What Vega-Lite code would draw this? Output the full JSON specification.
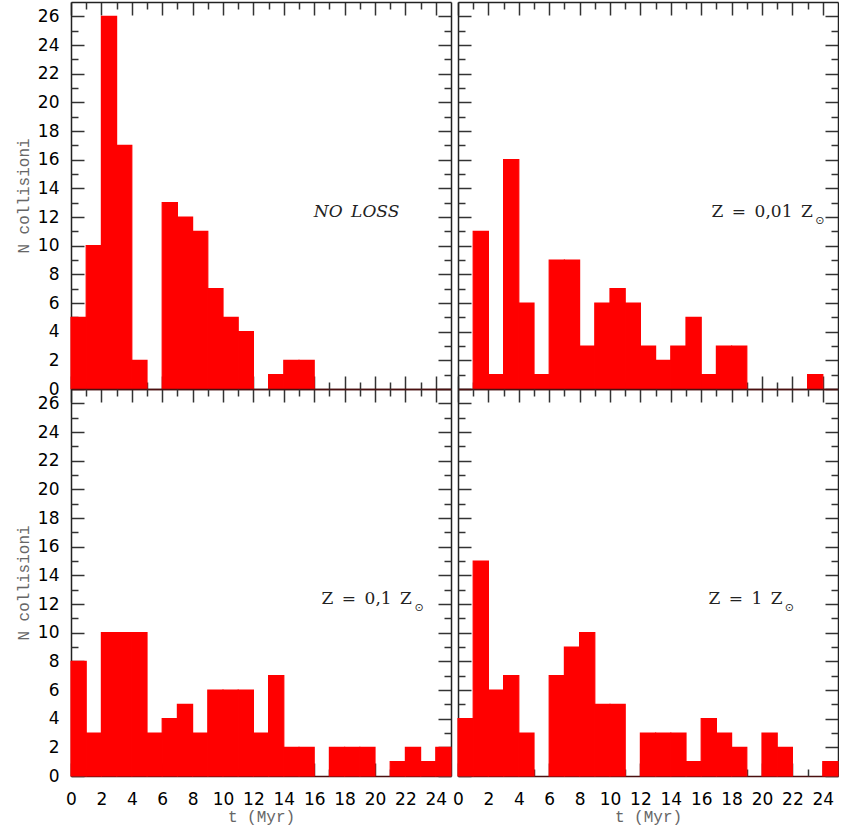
{
  "$schema": "https://vega.github.io/schema/vega-lite/v6.json",
  "padding": {"left": 15, "top": 1, "right": 0, "bottom": 2},
  "background": "white",
  "config": {"view": {"stroke": null}, "axis": {"grid": false}},
  "datasets": {
    "hist": [
      {"p": "a", "t0": 0, "t1": 1, "n": 5}, {"p": "a", "t0": 1, "t1": 2, "n": 10}, {"p": "a", "t0": 2, "t1": 3, "n": 26}, {"p": "a", "t0": 3, "t1": 4, "n": 17}, {"p": "a", "t0": 4, "t1": 5, "n": 2},
      {"p": "a", "t0": 6, "t1": 7, "n": 13}, {"p": "a", "t0": 7, "t1": 8, "n": 12}, {"p": "a", "t0": 8, "t1": 9, "n": 11}, {"p": "a", "t0": 9, "t1": 10, "n": 7}, {"p": "a", "t0": 10, "t1": 11, "n": 5},
      {"p": "a", "t0": 11, "t1": 12, "n": 4}, {"p": "a", "t0": 13, "t1": 14, "n": 1}, {"p": "a", "t0": 14, "t1": 15, "n": 2}, {"p": "a", "t0": 15, "t1": 16, "n": 2},
      {"p": "b", "t0": 1, "t1": 2, "n": 11}, {"p": "b", "t0": 2, "t1": 3, "n": 1}, {"p": "b", "t0": 3, "t1": 4, "n": 16}, {"p": "b", "t0": 4, "t1": 5, "n": 6}, {"p": "b", "t0": 5, "t1": 6, "n": 1},
      {"p": "b", "t0": 6, "t1": 7, "n": 9}, {"p": "b", "t0": 7, "t1": 8, "n": 9}, {"p": "b", "t0": 8, "t1": 9, "n": 3}, {"p": "b", "t0": 9, "t1": 10, "n": 6}, {"p": "b", "t0": 10, "t1": 11, "n": 7},
      {"p": "b", "t0": 11, "t1": 12, "n": 6}, {"p": "b", "t0": 12, "t1": 13, "n": 3}, {"p": "b", "t0": 13, "t1": 14, "n": 2}, {"p": "b", "t0": 14, "t1": 15, "n": 3}, {"p": "b", "t0": 15, "t1": 16, "n": 5},
      {"p": "b", "t0": 16, "t1": 17, "n": 1}, {"p": "b", "t0": 17, "t1": 18, "n": 3}, {"p": "b", "t0": 18, "t1": 19, "n": 3}, {"p": "b", "t0": 23, "t1": 24, "n": 1},
      {"p": "c", "t0": 0, "t1": 1, "n": 8}, {"p": "c", "t0": 1, "t1": 2, "n": 3}, {"p": "c", "t0": 2, "t1": 3, "n": 10}, {"p": "c", "t0": 3, "t1": 4, "n": 10}, {"p": "c", "t0": 4, "t1": 5, "n": 10},
      {"p": "c", "t0": 5, "t1": 6, "n": 3}, {"p": "c", "t0": 6, "t1": 7, "n": 4}, {"p": "c", "t0": 7, "t1": 8, "n": 5}, {"p": "c", "t0": 8, "t1": 9, "n": 3}, {"p": "c", "t0": 9, "t1": 10, "n": 6},
      {"p": "c", "t0": 10, "t1": 11, "n": 6}, {"p": "c", "t0": 11, "t1": 12, "n": 6}, {"p": "c", "t0": 12, "t1": 13, "n": 3}, {"p": "c", "t0": 13, "t1": 14, "n": 7}, {"p": "c", "t0": 14, "t1": 15, "n": 2},
      {"p": "c", "t0": 15, "t1": 16, "n": 2}, {"p": "c", "t0": 17, "t1": 18, "n": 2}, {"p": "c", "t0": 18, "t1": 19, "n": 2}, {"p": "c", "t0": 19, "t1": 20, "n": 2}, {"p": "c", "t0": 21, "t1": 22, "n": 1},
      {"p": "c", "t0": 22, "t1": 23, "n": 2}, {"p": "c", "t0": 23, "t1": 24, "n": 1}, {"p": "c", "t0": 24, "t1": 25, "n": 2},
      {"p": "d", "t0": 0, "t1": 1, "n": 4}, {"p": "d", "t0": 1, "t1": 2, "n": 15}, {"p": "d", "t0": 2, "t1": 3, "n": 6}, {"p": "d", "t0": 3, "t1": 4, "n": 7}, {"p": "d", "t0": 4, "t1": 5, "n": 3},
      {"p": "d", "t0": 6, "t1": 7, "n": 7}, {"p": "d", "t0": 7, "t1": 8, "n": 9}, {"p": "d", "t0": 8, "t1": 9, "n": 10}, {"p": "d", "t0": 9, "t1": 10, "n": 5}, {"p": "d", "t0": 10, "t1": 11, "n": 5},
      {"p": "d", "t0": 12, "t1": 13, "n": 3}, {"p": "d", "t0": 13, "t1": 14, "n": 3}, {"p": "d", "t0": 14, "t1": 15, "n": 3}, {"p": "d", "t0": 15, "t1": 16, "n": 1}, {"p": "d", "t0": 16, "t1": 17, "n": 4},
      {"p": "d", "t0": 17, "t1": 18, "n": 3}, {"p": "d", "t0": 18, "t1": 19, "n": 2}, {"p": "d", "t0": 20, "t1": 21, "n": 3}, {"p": "d", "t0": 21, "t1": 22, "n": 2}, {"p": "d", "t0": 24, "t1": 25, "n": 1}
    ],
    "labels": [
      {"p": "a", "x": 21.6, "y": 12.35, "txt": "NO\u2002LOSS", "kind": "main"},
      {"p": "b", "x": 23.34, "y": 12.35, "txt": "Z\u2002=\u20020,01\u2002Z", "kind": "main"},
      {"p": "b", "x": 23.8, "y": 11.7, "txt": "⊙", "kind": "sun"},
      {"p": "c", "x": 22.43, "y": 12.35, "txt": "Z\u2002=\u20020,1\u2002Z", "kind": "main"},
      {"p": "c", "x": 22.9, "y": 11.7, "txt": "⊙", "kind": "sun"},
      {"p": "d", "x": 21.36, "y": 12.35, "txt": "Z\u2002=\u20021\u2002Z", "kind": "main"},
      {"p": "d", "x": 21.8, "y": 11.7, "txt": "⊙", "kind": "sun"}
    ]
  },
  "columns": 2,
  "spacing": {"row": 0, "column": 7},
  "bounds": "flush",
  "concat": [
    {
      "width": 380, "height": 387,
      "layer": [
        {"data": {"name": "hist"}, "transform": [{"filter": "datum.p === 'a'"}],
         "mark": {"type": "bar", "color": "#ff0000", "stroke": "#ff0000", "strokeWidth": 1.2},
         "encoding": {
           "x": {"field": "t0", "type": "quantitative", "scale": {"domain": [0, 25], "nice": false, "zero": false},
                 "axis": {"orient": "bottom", "values": [0,2,4,6,8,10,12,14,16,18,20,22,24], "tickSize": -13, "tickWidth": 1.5, "tickColor": "#333", "domainColor": "#4a1010", "domainWidth": 1.5, "labels": false, "title": null}},
           "x2": {"field": "t1"},
           "y": {"field": "n", "type": "quantitative", "scale": {"domain": [0, 27], "nice": false},
                 "axis": {"orient": "left", "values": [0,2,4,6,8,10,12,14,16,18,20,22,24,26], "tickSize": -13, "tickWidth": 1.5, "tickColor": "#333", "domainColor": "#222", "domainWidth": 1.5, "labelFont": "DejaVu Sans", "labelFontSize": 17, "labelColor": "#000", "labelPadding": 25, "labelOverlap": false, "title": "N collisioni", "titleFont": "Liberation Mono", "titleFontSize": 16, "titleFontWeight": "normal", "titleColor": "#666", "titlePadding": 6}},
           "y2": {"datum": 0}
         }},
        {"data": {"name": "hist"}, "transform": [{"filter": "datum.p === 'a'"}],
         "mark": {"type": "bar", "opacity": 0},
         "encoding": {
           "x": {"field": "t0", "type": "quantitative", "axis": {"orient": "bottom", "values": [1,3,5,7,9,11,13,15,17,19,21,23], "tickSize": -7, "tickWidth": 1.5, "tickColor": "#333", "domain": false, "labels": false, "title": null}},
           "x2": {"field": "t1"},
           "y": {"field": "n", "type": "quantitative", "axis": {"orient": "left", "values": [1,3,5,7,9,11,13,15,17,19,21,23,25], "tickSize": -7, "tickWidth": 1.5, "tickColor": "#333", "domain": false, "labels": false, "title": null}},
           "y2": {"datum": 0}
         }},
        {"data": {"name": "hist"}, "transform": [{"filter": "datum.p === 'a'"}],
         "mark": {"type": "bar", "opacity": 0},
         "encoding": {
           "x": {"field": "t0", "type": "quantitative", "axis": {"orient": "top", "values": [0,2,4,6,8,10,12,14,16,18,20,22,24], "tickSize": -13, "tickWidth": 1.5, "tickColor": "#333", "domainColor": "#222", "domainWidth": 1.5, "labels": false, "title": null}},
           "x2": {"field": "t1"},
           "y": {"field": "n", "type": "quantitative", "axis": {"orient": "right", "values": [0,2,4,6,8,10,12,14,16,18,20,22,24,26], "tickSize": -13, "tickWidth": 1.5, "tickColor": "#333", "domainColor": "#222", "domainWidth": 1.5, "labels": false, "title": null}},
           "y2": {"datum": 0}
         }},
        {"data": {"name": "hist"}, "transform": [{"filter": "datum.p === 'a'"}],
         "mark": {"type": "bar", "opacity": 0},
         "encoding": {
           "x": {"field": "t0", "type": "quantitative", "axis": {"orient": "top", "values": [1,3,5,7,9,11,13,15,17,19,21,23], "tickSize": -7, "tickWidth": 1.5, "tickColor": "#333", "domain": false, "labels": false, "title": null}},
           "x2": {"field": "t1"},
           "y": {"field": "n", "type": "quantitative", "axis": {"orient": "right", "values": [1,3,5,7,9,11,13,15,17,19,21,23,25], "tickSize": -7, "tickWidth": 1.5, "tickColor": "#333", "domain": false, "labels": false, "title": null}},
           "y2": {"datum": 0}
         }},
        {"data": {"name": "labels"}, "transform": [{"filter": "datum.p === 'a'"}],
         "mark": {"type": "text", "align": "right", "baseline": "middle", "font": "DejaVu Serif", "fontStyle": "italic", "fontSize": 17, "color": "#222"},
         "encoding": {
           "x": {"field": "x", "type": "quantitative", "axis": null},
           "y": {"field": "y", "type": "quantitative", "axis": null},
           "text": {"field": "txt"}
         }}
      ],
      "resolve": {"axis": {"x": "independent", "y": "independent"}}
    },
    {
      "width": 380, "height": 387,
      "layer": [
        {"data": {"name": "hist"}, "transform": [{"filter": "datum.p === 'b'"}],
         "mark": {"type": "bar", "color": "#ff0000", "stroke": "#ff0000", "strokeWidth": 1.2},
         "encoding": {
           "x": {"field": "t0", "type": "quantitative", "scale": {"domain": [0, 25], "nice": false, "zero": false},
                 "axis": {"orient": "bottom", "values": [0,2,4,6,8,10,12,14,16,18,20,22,24], "tickSize": -13, "tickWidth": 1.5, "tickColor": "#333", "domainColor": "#4a1010", "domainWidth": 1.5, "labels": false, "title": null}},
           "x2": {"field": "t1"},
           "y": {"field": "n", "type": "quantitative", "scale": {"domain": [0, 27], "nice": false},
                 "axis": {"orient": "left", "values": [0,2,4,6,8,10,12,14,16,18,20,22,24,26], "tickSize": -13, "tickWidth": 1.5, "tickColor": "#333", "domainColor": "#222", "domainWidth": 1.5, "labels": false, "title": null}},
           "y2": {"datum": 0}
         }},
        {"data": {"name": "hist"}, "transform": [{"filter": "datum.p === 'b'"}],
         "mark": {"type": "bar", "opacity": 0},
         "encoding": {
           "x": {"field": "t0", "type": "quantitative", "axis": {"orient": "bottom", "values": [1,3,5,7,9,11,13,15,17,19,21,23], "tickSize": -7, "tickWidth": 1.5, "tickColor": "#333", "domain": false, "labels": false, "title": null}},
           "x2": {"field": "t1"},
           "y": {"field": "n", "type": "quantitative", "axis": {"orient": "left", "values": [1,3,5,7,9,11,13,15,17,19,21,23,25], "tickSize": -7, "tickWidth": 1.5, "tickColor": "#333", "domain": false, "labels": false, "title": null}},
           "y2": {"datum": 0}
         }},
        {"data": {"name": "hist"}, "transform": [{"filter": "datum.p === 'b'"}],
         "mark": {"type": "bar", "opacity": 0},
         "encoding": {
           "x": {"field": "t0", "type": "quantitative", "axis": {"orient": "top", "values": [0,2,4,6,8,10,12,14,16,18,20,22,24], "tickSize": -13, "tickWidth": 1.5, "tickColor": "#333", "domainColor": "#222", "domainWidth": 1.5, "labels": false, "title": null}},
           "x2": {"field": "t1"},
           "y": {"field": "n", "type": "quantitative", "axis": {"orient": "right", "values": [0,2,4,6,8,10,12,14,16,18,20,22,24,26], "tickSize": -13, "tickWidth": 1.5, "tickColor": "#333", "domainColor": "#222", "domainWidth": 1.5, "labels": false, "title": null}},
           "y2": {"datum": 0}
         }},
        {"data": {"name": "hist"}, "transform": [{"filter": "datum.p === 'b'"}],
         "mark": {"type": "bar", "opacity": 0},
         "encoding": {
           "x": {"field": "t0", "type": "quantitative", "axis": {"orient": "top", "values": [1,3,5,7,9,11,13,15,17,19,21,23], "tickSize": -7, "tickWidth": 1.5, "tickColor": "#333", "domain": false, "labels": false, "title": null}},
           "x2": {"field": "t1"},
           "y": {"field": "n", "type": "quantitative", "axis": {"orient": "right", "values": [1,3,5,7,9,11,13,15,17,19,21,23,25], "tickSize": -7, "tickWidth": 1.5, "tickColor": "#333", "domain": false, "labels": false, "title": null}},
           "y2": {"datum": 0}
         }},
        {"data": {"name": "labels"}, "transform": [{"filter": "datum.p === 'b' && datum.kind === 'main'"}],
         "mark": {"type": "text", "align": "right", "baseline": "middle", "font": "DejaVu Serif", "fontSize": 17, "color": "#222"},
         "encoding": {
           "x": {"field": "x", "type": "quantitative", "axis": null},
           "y": {"field": "y", "type": "quantitative", "axis": null},
           "text": {"field": "txt"}
         }},
        {"data": {"name": "labels"}, "transform": [{"filter": "datum.p === 'b' && datum.kind === 'sun'"}],
         "mark": {"type": "text", "align": "center", "baseline": "middle", "font": "DejaVu Sans", "fontSize": 11, "color": "#222"},
         "encoding": {
           "x": {"field": "x", "type": "quantitative", "axis": null},
           "y": {"field": "y", "type": "quantitative", "axis": null},
           "text": {"field": "txt"}
         }}
      ],
      "resolve": {"axis": {"x": "independent", "y": "independent"}}
    },
    {
      "width": 380, "height": 387,
      "layer": [
        {"data": {"name": "hist"}, "transform": [{"filter": "datum.p === 'c'"}],
         "mark": {"type": "bar", "color": "#ff0000", "stroke": "#ff0000", "strokeWidth": 1.2},
         "encoding": {
           "x": {"field": "t0", "type": "quantitative", "scale": {"domain": [0, 25], "nice": false, "zero": false},
                 "axis": {"orient": "bottom", "values": [0,2,4,6,8,10,12,14,16,18,20,22,24], "tickSize": -13, "tickWidth": 1.5, "tickColor": "#333", "domainColor": "#4a1010", "domainWidth": 1.5, "labelFont": "DejaVu Sans", "labelFontSize": 17, "labelColor": "#000", "labelPadding": 28, "labelFlush": false, "labelOverlap": false, "title": "t (Myr)", "titleFont": "Liberation Mono", "titleFontSize": 16, "titleFontWeight": "normal", "titleColor": "#666", "titlePadding": 1}},
           "x2": {"field": "t1"},
           "y": {"field": "n", "type": "quantitative", "scale": {"domain": [0, 27], "nice": false},
                 "axis": {"orient": "left", "values": [0,2,4,6,8,10,12,14,16,18,20,22,24,26], "tickSize": -13, "tickWidth": 1.5, "tickColor": "#333", "domainColor": "#222", "domainWidth": 1.5, "labelFont": "DejaVu Sans", "labelFontSize": 17, "labelColor": "#000", "labelPadding": 25, "labelOverlap": false, "title": "N collisioni", "titleFont": "Liberation Mono", "titleFontSize": 16, "titleFontWeight": "normal", "titleColor": "#666", "titlePadding": 6}},
           "y2": {"datum": 0}
         }},
        {"data": {"name": "hist"}, "transform": [{"filter": "datum.p === 'c'"}],
         "mark": {"type": "bar", "opacity": 0},
         "encoding": {
           "x": {"field": "t0", "type": "quantitative", "axis": {"orient": "bottom", "values": [1,3,5,7,9,11,13,15,17,19,21,23], "tickSize": -7, "tickWidth": 1.5, "tickColor": "#333", "domain": false, "labels": false, "title": null}},
           "x2": {"field": "t1"},
           "y": {"field": "n", "type": "quantitative", "axis": {"orient": "left", "values": [1,3,5,7,9,11,13,15,17,19,21,23,25], "tickSize": -7, "tickWidth": 1.5, "tickColor": "#333", "domain": false, "labels": false, "title": null}},
           "y2": {"datum": 0}
         }},
        {"data": {"name": "hist"}, "transform": [{"filter": "datum.p === 'c'"}],
         "mark": {"type": "bar", "opacity": 0},
         "encoding": {
           "x": {"field": "t0", "type": "quantitative", "axis": {"orient": "top", "values": [0,2,4,6,8,10,12,14,16,18,20,22,24], "tickSize": -13, "tickWidth": 1.5, "tickColor": "#333", "domainColor": "#4a1010", "domainWidth": 1.5, "labels": false, "title": null}},
           "x2": {"field": "t1"},
           "y": {"field": "n", "type": "quantitative", "axis": {"orient": "right", "values": [0,2,4,6,8,10,12,14,16,18,20,22,24,26], "tickSize": -13, "tickWidth": 1.5, "tickColor": "#333", "domainColor": "#222", "domainWidth": 1.5, "labels": false, "title": null}},
           "y2": {"datum": 0}
         }},
        {"data": {"name": "hist"}, "transform": [{"filter": "datum.p === 'c'"}],
         "mark": {"type": "bar", "opacity": 0},
         "encoding": {
           "x": {"field": "t0", "type": "quantitative", "axis": {"orient": "top", "values": [1,3,5,7,9,11,13,15,17,19,21,23], "tickSize": -7, "tickWidth": 1.5, "tickColor": "#333", "domain": false, "labels": false, "title": null}},
           "x2": {"field": "t1"},
           "y": {"field": "n", "type": "quantitative", "axis": {"orient": "right", "values": [1,3,5,7,9,11,13,15,17,19,21,23,25], "tickSize": -7, "tickWidth": 1.5, "tickColor": "#333", "domain": false, "labels": false, "title": null}},
           "y2": {"datum": 0}
         }},
        {"data": {"name": "labels"}, "transform": [{"filter": "datum.p === 'c' && datum.kind === 'main'"}],
         "mark": {"type": "text", "align": "right", "baseline": "middle", "font": "DejaVu Serif", "fontSize": 17, "color": "#222"},
         "encoding": {
           "x": {"field": "x", "type": "quantitative", "axis": null},
           "y": {"field": "y", "type": "quantitative", "axis": null},
           "text": {"field": "txt"}
         }},
        {"data": {"name": "labels"}, "transform": [{"filter": "datum.p === 'c' && datum.kind === 'sun'"}],
         "mark": {"type": "text", "align": "center", "baseline": "middle", "font": "DejaVu Sans", "fontSize": 11, "color": "#222"},
         "encoding": {
           "x": {"field": "x", "type": "quantitative", "axis": null},
           "y": {"field": "y", "type": "quantitative", "axis": null},
           "text": {"field": "txt"}
         }}
      ],
      "resolve": {"axis": {"x": "independent", "y": "independent"}}
    },
    {
      "width": 380, "height": 387,
      "layer": [
        {"data": {"name": "hist"}, "transform": [{"filter": "datum.p === 'd'"}],
         "mark": {"type": "bar", "color": "#ff0000", "stroke": "#ff0000", "strokeWidth": 1.2},
         "encoding": {
           "x": {"field": "t0", "type": "quantitative", "scale": {"domain": [0, 25], "nice": false, "zero": false},
                 "axis": {"orient": "bottom", "values": [0,2,4,6,8,10,12,14,16,18,20,22,24], "tickSize": -13, "tickWidth": 1.5, "tickColor": "#333", "domainColor": "#4a1010", "domainWidth": 1.5, "labelFont": "DejaVu Sans", "labelFontSize": 17, "labelColor": "#000", "labelPadding": 28, "labelFlush": false, "labelOverlap": false, "title": "t (Myr)", "titleFont": "Liberation Mono", "titleFontSize": 16, "titleFontWeight": "normal", "titleColor": "#666", "titlePadding": 1}},
           "x2": {"field": "t1"},
           "y": {"field": "n", "type": "quantitative", "scale": {"domain": [0, 27], "nice": false},
                 "axis": {"orient": "left", "values": [0,2,4,6,8,10,12,14,16,18,20,22,24,26], "tickSize": -13, "tickWidth": 1.5, "tickColor": "#333", "domainColor": "#222", "domainWidth": 1.5, "labels": false, "title": null}},
           "y2": {"datum": 0}
         }},
        {"data": {"name": "hist"}, "transform": [{"filter": "datum.p === 'd'"}],
         "mark": {"type": "bar", "opacity": 0},
         "encoding": {
           "x": {"field": "t0", "type": "quantitative", "axis": {"orient": "bottom", "values": [1,3,5,7,9,11,13,15,17,19,21,23], "tickSize": -7, "tickWidth": 1.5, "tickColor": "#333", "domain": false, "labels": false, "title": null}},
           "x2": {"field": "t1"},
           "y": {"field": "n", "type": "quantitative", "axis": {"orient": "left", "values": [1,3,5,7,9,11,13,15,17,19,21,23,25], "tickSize": -7, "tickWidth": 1.5, "tickColor": "#333", "domain": false, "labels": false, "title": null}},
           "y2": {"datum": 0}
         }},
        {"data": {"name": "hist"}, "transform": [{"filter": "datum.p === 'd'"}],
         "mark": {"type": "bar", "opacity": 0},
         "encoding": {
           "x": {"field": "t0", "type": "quantitative", "axis": {"orient": "top", "values": [0,2,4,6,8,10,12,14,16,18,20,22,24], "tickSize": -13, "tickWidth": 1.5, "tickColor": "#333", "domainColor": "#4a1010", "domainWidth": 1.5, "labels": false, "title": null}},
           "x2": {"field": "t1"},
           "y": {"field": "n", "type": "quantitative", "axis": {"orient": "right", "values": [0,2,4,6,8,10,12,14,16,18,20,22,24,26], "tickSize": -13, "tickWidth": 1.5, "tickColor": "#333", "domainColor": "#222", "domainWidth": 1.5, "labels": false, "title": null}},
           "y2": {"datum": 0}
         }},
        {"data": {"name": "hist"}, "transform": [{"filter": "datum.p === 'd'"}],
         "mark": {"type": "bar", "opacity": 0},
         "encoding": {
           "x": {"field": "t0", "type": "quantitative", "axis": {"orient": "top", "values": [1,3,5,7,9,11,13,15,17,19,21,23], "tickSize": -7, "tickWidth": 1.5, "tickColor": "#333", "domain": false, "labels": false, "title": null}},
           "x2": {"field": "t1"},
           "y": {"field": "n", "type": "quantitative", "axis": {"orient": "right", "values": [1,3,5,7,9,11,13,15,17,19,21,23,25], "tickSize": -7, "tickWidth": 1.5, "tickColor": "#333", "domain": false, "labels": false, "title": null}},
           "y2": {"datum": 0}
         }},
        {"data": {"name": "labels"}, "transform": [{"filter": "datum.p === 'd' && datum.kind === 'main'"}],
         "mark": {"type": "text", "align": "right", "baseline": "middle", "font": "DejaVu Serif", "fontSize": 17, "color": "#222"},
         "encoding": {
           "x": {"field": "x", "type": "quantitative", "axis": null},
           "y": {"field": "y", "type": "quantitative", "axis": null},
           "text": {"field": "txt"}
         }},
        {"data": {"name": "labels"}, "transform": [{"filter": "datum.p === 'd' && datum.kind === 'sun'"}],
         "mark": {"type": "text", "align": "center", "baseline": "middle", "font": "DejaVu Sans", "fontSize": 11, "color": "#222"},
         "encoding": {
           "x": {"field": "x", "type": "quantitative", "axis": null},
           "y": {"field": "y", "type": "quantitative", "axis": null},
           "text": {"field": "txt"}
         }}
      ],
      "resolve": {"axis": {"x": "independent", "y": "independent"}}
    }
  ]
}
